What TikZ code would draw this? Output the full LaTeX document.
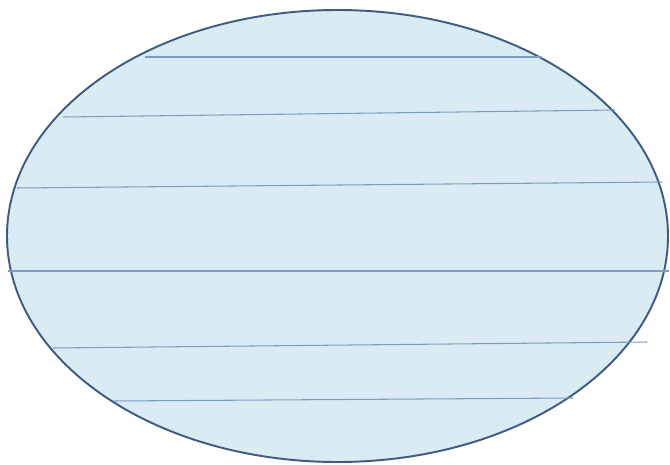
\documentclass[tikz,border=0pt]{standalone}
\usepackage{tikz}
\definecolor{ovalfill}{HTML}{DAEBF3}
\definecolor{ovaledge}{HTML}{3E5B82}
\definecolor{rulecol}{HTML}{7C9DC2}
\tikzset{
  oval/.style={fill=ovalfill, draw=ovaledge, line width=1.1pt},
  ruleline/.style={draw=rulecol, line width=0.6pt}
}

\begin{document}
\begin{tikzpicture}[x=0.02cm,y=-0.02cm]
\useasboundingbox (0,0) rectangle (670,464);
\draw[oval] (337.5,236) ellipse [x radius=330.5, y radius=226];
\draw[ruleline] (145,57) -- (542,57);
\draw[ruleline] (63,117) -- (615,110);
\draw[ruleline] (17,188) -- (662,182);
\draw[ruleline] (8,271) -- (669,271);
\draw[ruleline] (53,348) -- (647,342);
\draw[ruleline] (113,401) -- (573,398);
\end{tikzpicture}
\end{document}
